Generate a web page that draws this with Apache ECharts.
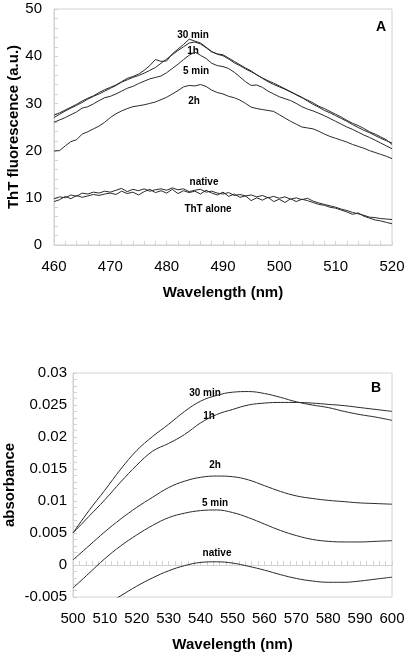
<!DOCTYPE html>
<html>
<head>
<meta charset="utf-8">
<script src="https://cdn.jsdelivr.net/npm/echarts@6/dist/echarts.min.js"></script>
<style>
html,body{margin:0;padding:0;background:#fff;}
#c{width:406px;height:658px;}
</style>
</head>
<body>
<div id="c"></div>
<script>
// ---------- Panel A : ThT fluorescence ----------
const wlA = [460,461,462,463,464,465,466,467,468,469,470,471,472,473,474,475,476,477,478,479,480,481,482,483,484,485,486,487,488,489,490,491,492,493,494,495,496,497,498,499,500,501,502,503,504,505,506,507,508,509,510,511,512,513,514,515,516,517,518,519,520];
const a30min = [27.5,28.0,28.6,29.2,29.8,30.5,31.1,31.6,32.3,32.9,33.4,33.9,34.6,35.3,35.7,36.2,37.0,38.0,39.3,38.9,39.0,40.5,41.5,42.5,43.6,43.2,42.8,41.9,41.0,40.4,40.1,39.4,38.6,38.0,37.3,36.7,36.1,35.3,34.6,34.0,33.5,33.0,32.4,31.9,31.3,30.5,29.8,29.2,28.5,28.0,27.4,26.8,26.2,25.5,24.9,24.3,23.8,23.2,22.6,22.1,21.6];
const a1h = [27.0,27.7,28.4,29.0,29.6,30.2,30.9,31.5,32.0,32.6,33.2,33.8,34.5,35.0,35.5,35.9,36.4,37.0,37.6,38.5,39.4,40.3,41.2,42.0,42.8,43.0,42.6,41.8,40.9,40.5,40.3,39.6,38.9,38.2,37.5,36.9,36.0,35.4,34.8,34.3,33.7,33.1,32.5,31.8,31.2,30.7,30.1,29.4,28.9,28.3,27.7,27.1,26.4,25.8,25.3,24.7,24.0,23.5,22.9,22.3,21.3];
const a5min = [26.0,26.5,27.0,27.6,28.2,29.0,29.3,29.9,30.6,31.2,31.5,32.0,32.6,33.2,33.6,34.2,34.7,35.2,35.5,35.8,36.5,37.4,38.3,39.3,40.2,40.9,40.2,39.5,38.5,38.0,37.8,37.4,36.6,35.6,34.6,33.8,33.9,33.4,32.6,32.0,31.4,31.0,30.6,30.0,29.3,28.8,28.4,27.9,27.4,26.8,26.2,25.6,25.0,24.5,23.9,23.3,22.8,22.2,21.6,21.0,20.4];
const a2h = [19.9,20.0,21.0,21.9,22.3,23.5,24.0,24.6,25.2,26.0,27.0,27.8,28.4,28.9,29.3,29.5,29.7,30.0,30.3,30.8,31.3,32.0,32.7,33.5,33.8,33.7,34.0,33.6,32.8,32.3,32.0,31.5,31.2,30.7,30.0,29.2,28.9,28.7,28.5,28.3,27.6,26.9,26.2,25.6,25.0,24.8,24.6,24.1,23.5,23.0,22.6,22.2,21.8,21.3,20.9,20.5,20.0,19.6,19.2,18.8,18.3];
const aNative = [9.8,10.2,10.0,10.6,10.3,11.0,10.8,11.2,11.0,11.4,11.2,11.6,12.0,11.3,11.8,11.5,11.9,11.4,11.7,11.9,11.6,12.1,11.7,11.9,11.3,11.6,11.8,11.2,11.4,11.0,10.8,11.1,10.5,10.7,10.4,10.6,10.2,10.5,10.0,10.3,9.9,10.2,9.7,10.0,9.6,9.9,9.3,8.9,8.6,8.3,8.0,7.6,7.3,6.9,6.6,6.3,5.9,5.8,5.6,5.5,5.4];
const aThT = [9.2,9.6,10.3,9.8,10.5,10.1,10.4,10.7,10.5,10.8,11.0,10.7,11.4,10.9,11.2,10.6,11.3,11.8,11.1,11.5,11.0,11.8,10.9,11.5,11.1,11.4,10.8,11.6,11.0,10.6,11.2,10.3,10.8,10.1,10.4,9.4,10.0,9.5,10.1,9.2,9.7,9.0,9.8,9.2,9.7,9.4,9.0,8.6,8.4,8.0,7.8,7.4,7.0,6.5,6.8,6.1,5.7,5.3,5.1,4.8,4.5];
const ticksAx = [460,470,480,490,500,510,520];
const ticksAy = [0,10,20,30,40,50];

// ---------- Panel B : absorbance ----------
const wlB = [500,505,510,515,520,525,530,535,540,545,550,555,560,565,570,575,580,585,590,595,600];
const b30min = [0.0050,0.0085,0.0117,0.0150,0.0179,0.0201,0.0220,0.0240,0.0256,0.0265,0.0270,0.0271,0.0268,0.0262,0.0255,0.0250,0.0246,0.0240,0.0235,0.0231,0.0226];
const b1h = [0.0050,0.0076,0.0102,0.0130,0.0156,0.0178,0.0190,0.0204,0.0222,0.0235,0.0243,0.0250,0.0253,0.0254,0.0254,0.0253,0.0251,0.0249,0.0246,0.0243,0.0240];
const b2h = [0.0008,0.0030,0.0052,0.0072,0.0090,0.0106,0.0121,0.0131,0.0137,0.0139,0.0138,0.0133,0.0124,0.0115,0.0108,0.0104,0.0101,0.0099,0.0097,0.0096,0.0095];
const b5min = [-0.0036,-0.0013,0.0010,0.0030,0.0047,0.0062,0.0074,0.0081,0.0085,0.0086,0.0082,0.0074,0.0064,0.0054,0.0046,0.0040,0.0037,0.0036,0.0036,0.0037,0.0038];
const bNative = [-0.0098,-0.0080,-0.0063,-0.0048,-0.0033,-0.0020,-0.0009,-0.0001,0.0004,0.0005,0.0003,-0.0002,-0.0008,-0.0015,-0.0021,-0.0025,-0.0027,-0.0027,-0.0025,-0.0022,-0.0019];
const ticksBx = [500,510,520,530,540,550,560,570,580,590,600];
const ticksBy = [-0.005,0,0.005,0.01,0.015,0.02,0.025,0.03];

const NARROW = "'Liberation Sans Narrow','Arial Narrow','Liberation Sans',Arial,sans-serif";
const SANS = "'Liberation Sans',Arial,sans-serif";
const AX = '#d2d2d2';
const LINE = '#2a2a2a';

function zip(xs, ys){ return xs.map((x,i)=>[x, ys[i]]); }

function xAxisCfg(gi, mn, mx){
  return {
    type:'value', gridIndex:gi, min:mn, max:mx, interval:10,
    axisLine:{show:true, lineStyle:{color:AX, width:1}},
    axisTick:{show:true, inside:true, length:4, lineStyle:{color:AX}},
    minorTick:{show:true, splitNumber:5, length:4, lineStyle:{color:AX}},
    splitLine:{show:false},
    axisLabel:{fontFamily:NARROW, fontSize:15, color:'#000', margin:14},
    name:'Wavelength (nm)', nameLocation:'middle', nameGap:40, nameMoveOverlap:false,
    nameTextStyle:{fontFamily:NARROW, fontSize:15, fontWeight:'bold', color:'#000'}
  };
}
function yAxisCfg(gi, mn, mx, iv, name, gap, margin, fmt){
  return {
    type:'value', gridIndex:gi, min:mn, max:mx, interval:iv,
    axisLine:{show:true, lineStyle:{color:AX, width:1}},
    axisTick:{show:true, inside:true, length:4, lineStyle:{color:AX}},
    minorTick:{show:true, splitNumber:5, length:4, lineStyle:{color:AX}},
    splitLine:{show:false},
    axisLabel:{fontFamily:SANS, fontSize:15, color:'#000', margin:margin, formatter:fmt},
    name:name, nameLocation:'middle', nameGap:gap, nameRotate:90, nameMoveOverlap:false,
    nameTextStyle:{fontFamily:SANS, fontSize:15, fontWeight:'bold', color:'#000'}
  };
}
function lineSeries(xi, data, smooth){
  return {type:'line', xAxisIndex:xi, yAxisIndex:xi, data:data, showSymbol:false, smooth:smooth,
    lineStyle:{color:LINE, width:1}, itemStyle:{color:LINE}, animation:false, clip:true, silent:true};
}
function lbl(text, x, y, size, fam){
  return {type:'text', x:x, y:y, style:{text:text, fontFamily:fam||NARROW, fontWeight:'bold', fontSize:size||10, fill:'#000', textAlign:'center', textVerticalAlign:'middle'}};
}

const fmtA = v => String(v);
const fmtB = v => {
  if (Math.abs(v) < 1e-9) return '0';
  return String(parseFloat(v.toFixed(3)));
};

const chart = echarts.init(document.getElementById('c'), null, {renderer:'canvas'});
chart.setOption({
  backgroundColor:'#fff',
  animation:false,
  grid:[
    {left:54, top:9, width:338, height:236, containLabel:false, outerBoundsMode:'none', show:true, borderColor:AX, borderWidth:1, backgroundColor:'transparent'},
    {left:73, top:373, width:319, height:224, containLabel:false, outerBoundsMode:'none', show:true, borderColor:AX, borderWidth:1, backgroundColor:'transparent'}
  ],
  xAxis:[ xAxisCfg(0, ticksAx[0], ticksAx[ticksAx.length-1]), xAxisCfg(1, ticksBx[0], ticksBx[ticksBx.length-1]) ],
  yAxis:[
    yAxisCfg(0, ticksAy[0], ticksAy[ticksAy.length-1], 10, 'ThT fluorescence (a.u.)', 33, 12, fmtA),
    yAxisCfg(1, ticksBy[0], ticksBy[ticksBy.length-1], 0.005, 'absorbance', 56, 6, fmtB)
  ],
  series:[
    lineSeries(0, zip(wlA, a30min), false),
    lineSeries(0, zip(wlA, a1h), false),
    lineSeries(0, zip(wlA, a5min), false),
    lineSeries(0, zip(wlA, a2h), false),
    lineSeries(0, zip(wlA, aNative), false),
    lineSeries(0, zip(wlA, aThT), false),
    lineSeries(1, zip(wlB, b30min), 0.4),
    lineSeries(1, zip(wlB, b1h), 0.4),
    lineSeries(1, zip(wlB, b2h), 0.4),
    lineSeries(1, zip(wlB, b5min), 0.4),
    lineSeries(1, zip(wlB, bNative), 0.4)
  ],
  graphic:[
    lbl('30 min', 193, 35), lbl('1h', 193, 51), lbl('5 min', 196, 71), lbl('2h', 194, 101),
    lbl('native', 204, 182), lbl('ThT alone', 208, 209),
    lbl('A', 381, 27, 14, SANS),
    lbl('30 min', 205, 393), lbl('1h', 209, 416), lbl('2h', 215, 465), lbl('5 min', 215, 503), lbl('native', 217, 553),
    lbl('B', 376, 388, 14, SANS)
  ]
});
</script>
</body>
</html>
